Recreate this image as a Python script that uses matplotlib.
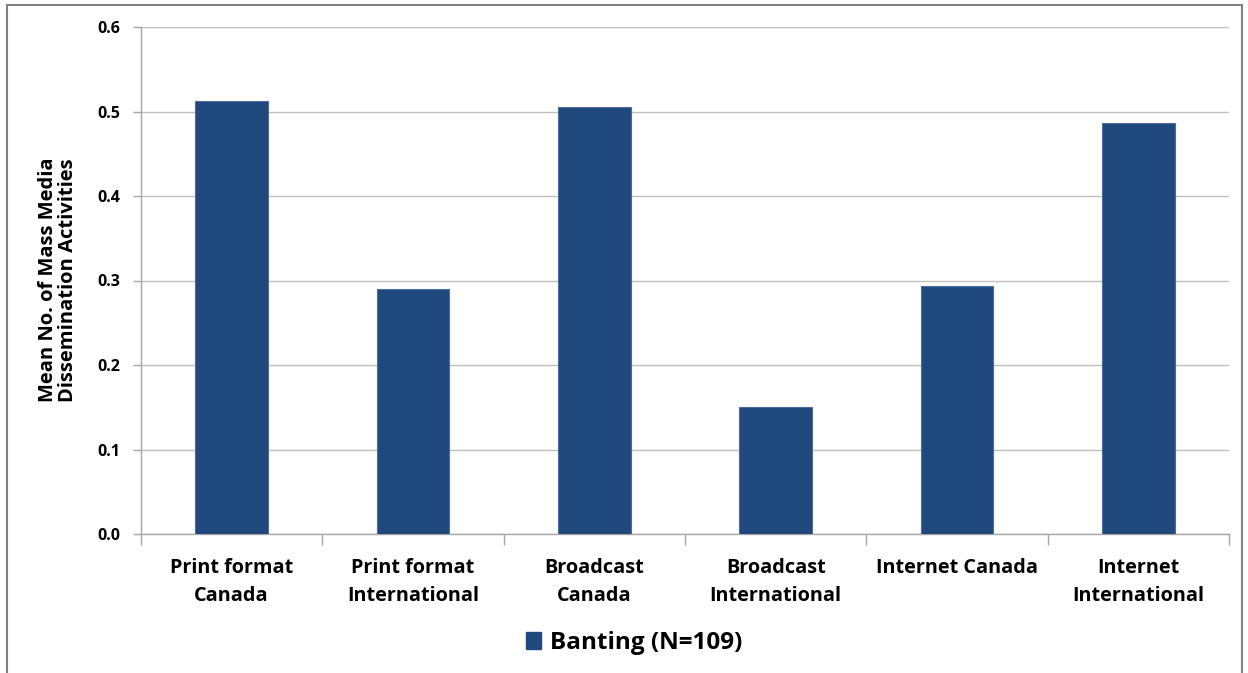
import matplotlib
matplotlib.use("Agg")
import matplotlib.pyplot as plt
from matplotlib.patches import Rectangle

categories = ["Print format\nCanada", "Print format\nInternational", "Broadcast\nCanada",
              "Broadcast\nInternational", "Internet Canada", "Internet\nInternational"]
values = [0.513, 0.290, 0.505, 0.150, 0.293, 0.486]
series_name = "Banting (N=109)"
yticks = [0.0, 0.1, 0.2, 0.3, 0.4, 0.5, 0.6]

plt.rcParams['font.family'] = ['Open Sans', 'DejaVu Sans']
plt.rcParams['font.weight'] = 'bold'

W, H = 1248, 673
fig = plt.figure(figsize=(W / 100, H / 100), dpi=100)
ax = fig.add_axes([141 / W, 1 - 534 / H, (1229 - 141) / W, (534 - 27) / H])

bar_color = "#1F497D"
x = list(range(len(categories)))
ax.bar(x, values, width=0.40, color=bar_color, edgecolor="#4a6f9c", linewidth=0.8, zorder=3,
       label=series_name)

ax.set_xlim(-0.5, len(categories) - 0.5)
ax.set_ylim(0, 0.6)
ax.set_yticks(yticks)
ax.set_yticklabels([f"{v:.1f}" for v in yticks], fontsize=11.5, fontweight='bold')
ax.yaxis.grid(True, color="#bfbfbf", linewidth=1.0, zorder=0)
ax.set_axisbelow(True)

ax.set_xticks([i - 0.5 for i in range(len(categories) + 1)])
ax.set_xticklabels([])
ax.set_xticks(x, minor=True)
ax.set_xticklabels(categories, minor=True, fontsize=14.3, fontweight='bold', linespacing=1.55)
ax.tick_params(axis='x', which='minor', length=0, pad=17)
ax.tick_params(axis='x', which='major', length=8, color="#a6a6a6", width=1)
ax.tick_params(axis='y', length=6, color="#a6a6a6", width=1, pad=9)

for side in ["top", "right"]:
    ax.spines[side].set_visible(False)
for side in ["left", "bottom"]:
    ax.spines[side].set_color("#a6a6a6")
    ax.spines[side].set_linewidth(1)

fig.text(58 / W, 1 - 280 / H, "Mean No. of Mass Media\nDissemination Activities",
         rotation=90, ha='center', va='center', fontsize=14.5, fontweight='bold',
         linespacing=1.05)

leg = fig.legend(handles=[Rectangle((0, 0), 1, 1, color=bar_color)], labels=[series_name],
                 loc='center', bbox_to_anchor=(634 / W, 1 - 643 / H), frameon=False,
                 prop={'size': 17.5, 'weight': 'bold'}, handlelength=0.65, handleheight=0.65,
                 handletextpad=0.35)

# outer frame
fig.patches.append(Rectangle((7 / W, -0.01), (1242 - 7) / W, (1 - 5 / H) + 0.01,
                             transform=fig.transFigure, fill=False, edgecolor="#808080",
                             linewidth=1.5))

fig.savefig("out.png", dpi=100)
